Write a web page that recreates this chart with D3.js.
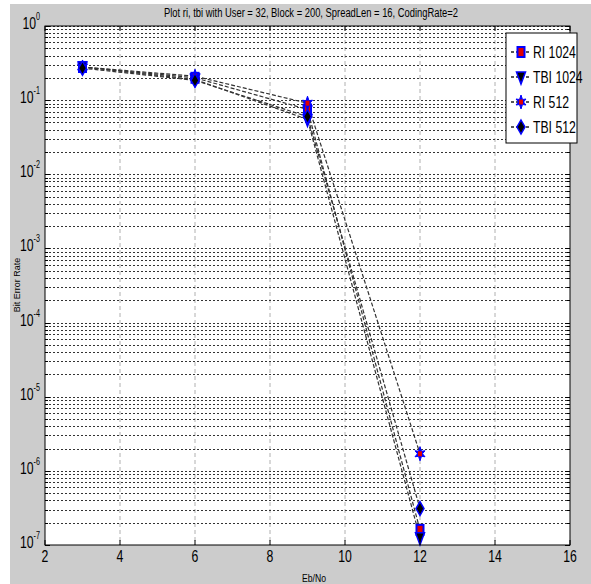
<!DOCTYPE html>
<html><head><meta charset="utf-8">
<script src="https://cdn.jsdelivr.net/npm/d3@7"></script>
<style>body{margin:0;background:#fff}svg{display:block}</style>
</head><body>
<svg id="c" width="591" height="584"></svg>
<script>
const ebno = [3, 6, 9, 12];
const ri1024 = [0.28, 0.20, 0.075, 1.6e-7];
const tbi1024 = [0.28, 0.19, 0.055, 1.25e-7];
const ri512 = [0.28, 0.21, 0.091, 1.7e-6];
const tbi512 = [0.27, 0.185, 0.06, 3.1e-7];
const seriesNames = ["RI 1024", "TBI 1024", "RI 512", "TBI 512"];
const xTicks = [2, 4, 6, 8, 10, 12, 14, 16];
const yExps = [0, -1, -2, -3, -4, -5, -6, -7];
const titleText = "Plot ri, tbi with User = 32, Block = 200,  SpreadLen = 16, CodingRate=2";

const svg = d3.select("#c");
const L = 45, R = 570, T = 26, B = 545;
const x = d3.scaleLinear().domain([2, 16]).range([L, R]);
const y = d3.scaleLog().domain([1e-7, 1]).range([B, T]);
const font = "'Liberation Sans',Arial,sans-serif";
const SX = 0.72;

function ntext(px, py, size, anchor) {
  return svg.append("text").attr("transform", `translate(${px},${py}) scale(${SX},1)`)
    .attr("text-anchor", anchor).attr("font-family", font).attr("font-size", size);
}

svg.append("rect").attr("x", 10).attr("y", 4).attr("width", 581).attr("height", 580).attr("fill", "#cccccc");
svg.append("rect").attr("x", L).attr("y", T).attr("width", R - L).attr("height", B - T).attr("fill", "#fff");

// grid
const g = svg.append("g");
xTicks.slice(1, -1).forEach(v => {
  g.append("line").attr("x1", x(v)).attr("x2", x(v)).attr("y1", T).attr("y2", B)
    .attr("stroke", "#b0b0b0").attr("stroke-width", 1).attr("stroke-dasharray", "4,3");
});
const yAll = [];
for (let e = -7; e < 0; e++) for (let m = 1; m <= 9; m++) yAll.push(m * Math.pow(10, e));
yAll.push(1);
yAll.forEach(v => {
  if (v <= 1e-7 * 1.0001) return;
  g.append("line").attr("x1", L).attr("x2", R).attr("y1", Math.round(y(v)) + 0.5).attr("y2", Math.round(y(v)) + 0.5)
    .attr("stroke", "#333").attr("stroke-width", 1).attr("stroke-dasharray", "2,2");
});

// data lines
const sets = [ri1024, tbi1024, ri512, tbi512];
const line = d3.line().x((d, i) => x(ebno[i])).y(d => y(d));
sets.forEach(s => {
  svg.append("path").datum(s).attr("d", line).attr("fill", "none")
    .attr("stroke", "#333").attr("stroke-width", 1.2).attr("stroke-dasharray", "4,2");
});

// markers
function marker(sel, type, cx, cy) {
  const gg = sel.append("g").attr("transform", `translate(${cx},${cy})`);
  if (type === 0) {
    gg.append("rect").attr("x", -3.5).attr("y", -5).attr("width", 7).attr("height", 10)
      .attr("fill", "#e00000").attr("stroke", "#0000ff").attr("stroke-width", 2);
  } else if (type === 1) {
    gg.append("path").attr("d", "M-4.5,-5 L4.5,-5 L0,7 Z").attr("fill", "#000").attr("stroke", "#0000ff").attr("stroke-width", 1.5);
  } else if (type === 2) {
    gg.append("path").attr("d", "M0,-7 L1.5,-2.5 L5,-3 L2.5,0 L5,3 L1.5,2.5 L0,7 L-1.5,2.5 L-5,3 L-2.5,0 L-5,-3 L-1.5,-2.5 Z")
      .attr("fill", "#0000ff").attr("stroke", "#0000ff").attr("stroke-width", 1);
    gg.append("rect").attr("x", -2).attr("y", -2.5).attr("width", 4).attr("height", 5).attr("fill", "#e00000");
  } else {
    gg.append("path").attr("d", "M0,-7 L4,0 L0,7 L-4,0 Z").attr("fill", "#000").attr("stroke", "#0000ff").attr("stroke-width", 1.5);
  }
}
sets.forEach((s, k) => s.forEach((v, i) => marker(svg, k, x(ebno[i]), y(v))));

// axes box
svg.append("rect").attr("x", L).attr("y", T).attr("width", R - L).attr("height", B - T)
  .attr("fill", "none").attr("stroke", "#000").attr("stroke-width", 1);
// ticks
xTicks.forEach(v => {
  svg.append("line").attr("x1", x(v)).attr("x2", x(v)).attr("y1", B).attr("y2", B - 5).attr("stroke", "#000");
  svg.append("line").attr("x1", x(v)).attr("x2", x(v)).attr("y1", T).attr("y2", T + 5).attr("stroke", "#000");
  ntext(x(v), B + 17, 17, "middle").text(v);
});
yAll.forEach(v => {
  const yy = Math.round(y(v)) + 0.5;
  const major = Math.abs(Math.log10(v) - Math.round(Math.log10(v))) < 1e-6;
  const len = major ? 5 : 3;
  svg.append("line").attr("x1", L).attr("x2", L + len).attr("y1", yy).attr("y2", yy).attr("stroke", "#000");
  svg.append("line").attr("x1", R).attr("x2", R - len).attr("y1", yy).attr("y2", yy).attr("stroke", "#000");
});
yExps.forEach(e => {
  const t = ntext(40, y(Math.pow(10, e)) + 3, 17, "end");
  t.append("tspan").text("10");
  t.append("tspan").attr("dy", -9).attr("font-size", 10).text(e);
});

// labels
svg.append("text").attr("x", 311).attr("y", 17).attr("text-anchor", "middle")
  .attr("font-family", font).attr("font-size", 12).attr("textLength", 294).attr("lengthAdjust", "spacingAndGlyphs").text(titleText);
svg.append("text").attr("x", 314).attr("y", 582).attr("text-anchor", "middle")
  .attr("font-family", font).attr("font-size", 10).attr("textLength", 24).attr("lengthAdjust", "spacingAndGlyphs").text("Eb/No");
svg.append("text").attr("transform", "translate(20,285) rotate(-90)").attr("text-anchor", "middle")
  .attr("font-family", font).attr("font-size", 9).text("Bit Error Rate");

// legend
const lg = svg.append("g");
lg.append("rect").attr("x", 506).attr("y", 33).attr("width", 71).attr("height", 110)
  .attr("fill", "#fff").attr("stroke", "#000");
seriesNames.forEach((n, k) => {
  const ly = 52 + k * 25;
  lg.append("line").attr("x1", 511).attr("x2", 531).attr("y1", ly).attr("y2", ly)
    .attr("stroke", "#222").attr("stroke-width", 1.3).attr("stroke-dasharray", "3,2");
  marker(lg, k, 521, ly);
  ntext(533, ly + 6, 17, "start").text(n);
});
</script>
</body></html>
